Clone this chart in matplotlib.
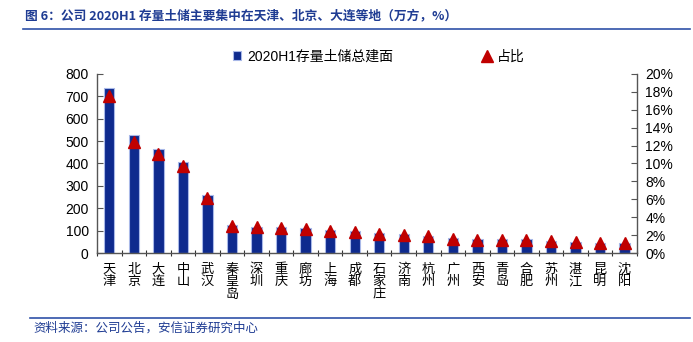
"""
Stock land bank by city, 2020H1 - bar + share markers on twin axis
"""
import matplotlib
matplotlib.use('Agg')
import matplotlib.pyplot as plt
from matplotlib.ticker import FuncFormatter, FixedLocator
import numpy as np

plt.rcParams['font.family'] = ['Liberation Sans', 'Noto Sans CJK SC', 'DejaVu Sans']

# data
cities = ['天津', '北京', '大连', '中山', '武汉', '秦皇岛', '深圳', '重庆', '廊坊', '上海', '成都',
          '石家庄', '济南', '杭州', '广州', '西安', '青岛', '合肥', '苏州', '湛江', '昆明', '沈阳']
area = [735, 525, 465, 405, 260, 125, 118, 118, 112, 103, 98,
        88, 84, 78, 66, 61, 61, 61, 55, 51, 45, 45]
share = [17.5, 12.4, 11.1, 9.7, 6.2, 3.0, 2.9, 2.8, 2.7, 2.5, 2.3,
         2.1, 2.0, 1.9, 1.6, 1.45, 1.45, 1.45, 1.3, 1.2, 1.07, 1.07]

bar_col = '#0E2A8E'
tri_col = '#C00000'
blue_txt = '#1F3C93'

fig = plt.figure(figsize=(6.93, 3.42), dpi=100)
ax = fig.add_axes([0.140, 0.260, 0.779, 0.524])
x = np.arange(len(cities))
ax.bar(x, area, width=0.42, color=bar_col, edgecolor='#A8B8E8', linewidth=0.8,
       label='2020H1存量土储总建面', zorder=2)
ax.set_xlim(-0.5, len(cities) - 0.5)
ax.set_ylim(0, 800)
ax.set_yticks(range(0, 801, 100))

ax2 = ax.twinx()
ax2.plot(x, share, linestyle='none', marker='^', markersize=8.5, color=tri_col,
         label='占比', zorder=3)
ax2.set_ylim(0, 20)
ax2.set_yticks(range(0, 21, 2))
ax2.yaxis.set_major_formatter(FuncFormatter(lambda v, p: '%d%%' % v))

# vertical city labels, one char per line
ax.set_xticks(x)
ax.set_xticklabels(['\n'.join(c) for c in cities], fontsize=9.5,
                   family=['Noto Sans CJK SC'], linespacing=0.95, va='top')
ax.tick_params(axis='x', length=0, pad=7)
ax.xaxis.set_minor_locator(FixedLocator(np.arange(-0.5, len(cities), 1)))
ax.tick_params(axis='x', which='minor', length=5, direction='inout', width=0.8, color='#333333')

for a in (ax, ax2):
    for s in a.spines.values():
        s.set_visible(False)
ax.spines['bottom'].set_visible(True)
ax.spines['left'].set_visible(True)
ax2.spines['right'].set_visible(True)
for s in (ax.spines['bottom'], ax.spines['left'], ax2.spines['right']):
    s.set_color('#555555')
    s.set_linewidth(1.0)
ax.tick_params(axis='y', direction='in', length=4, labelsize=10, color='#555555', pad=6)
ax2.tick_params(axis='y', direction='in', length=4, labelsize=10, color='#555555', pad=6)

h1, l1 = ax.get_legend_handles_labels()
h2, l2 = ax2.get_legend_handles_labels()
fig.legend(h1, l1, loc='center left', bbox_to_anchor=(0.318, 0.835), frameon=False,
           fontsize=9.5, handlelength=0.6, handleheight=0.6, handletextpad=0.4,
           prop={'family': ['Liberation Sans', 'Noto Sans CJK SC']})
fig.legend(h2, l2, loc='center left', bbox_to_anchor=(0.677, 0.835), frameon=False,
           fontsize=9.5, handlelength=0.8, handletextpad=0.3,
           prop={'family': ['Noto Sans CJK SC']})

# header / footer
fig.text(0.036, 0.953, '图 6：公司 2020H1 存量土储主要集中在天津、北京、大连等地（万方，%）',
         fontsize=9.2, fontweight='bold', color=blue_txt, va='center',
         family=['Noto Sans CJK SC'])
fig.add_artist(plt.Line2D([0.033, 0.995], [0.915, 0.915], color='#2F52A8', linewidth=1.2))
fig.add_artist(plt.Line2D([0.043, 0.995], [0.070, 0.070], color='#2F52A8', linewidth=1.2))
fig.text(0.048, 0.040, '资料来源：公司公告，安信证券研究中心', fontsize=9, style='italic',
         color=blue_txt, va='center', family=['Noto Sans CJK SC'])

fig.savefig('out.png', dpi=100)
